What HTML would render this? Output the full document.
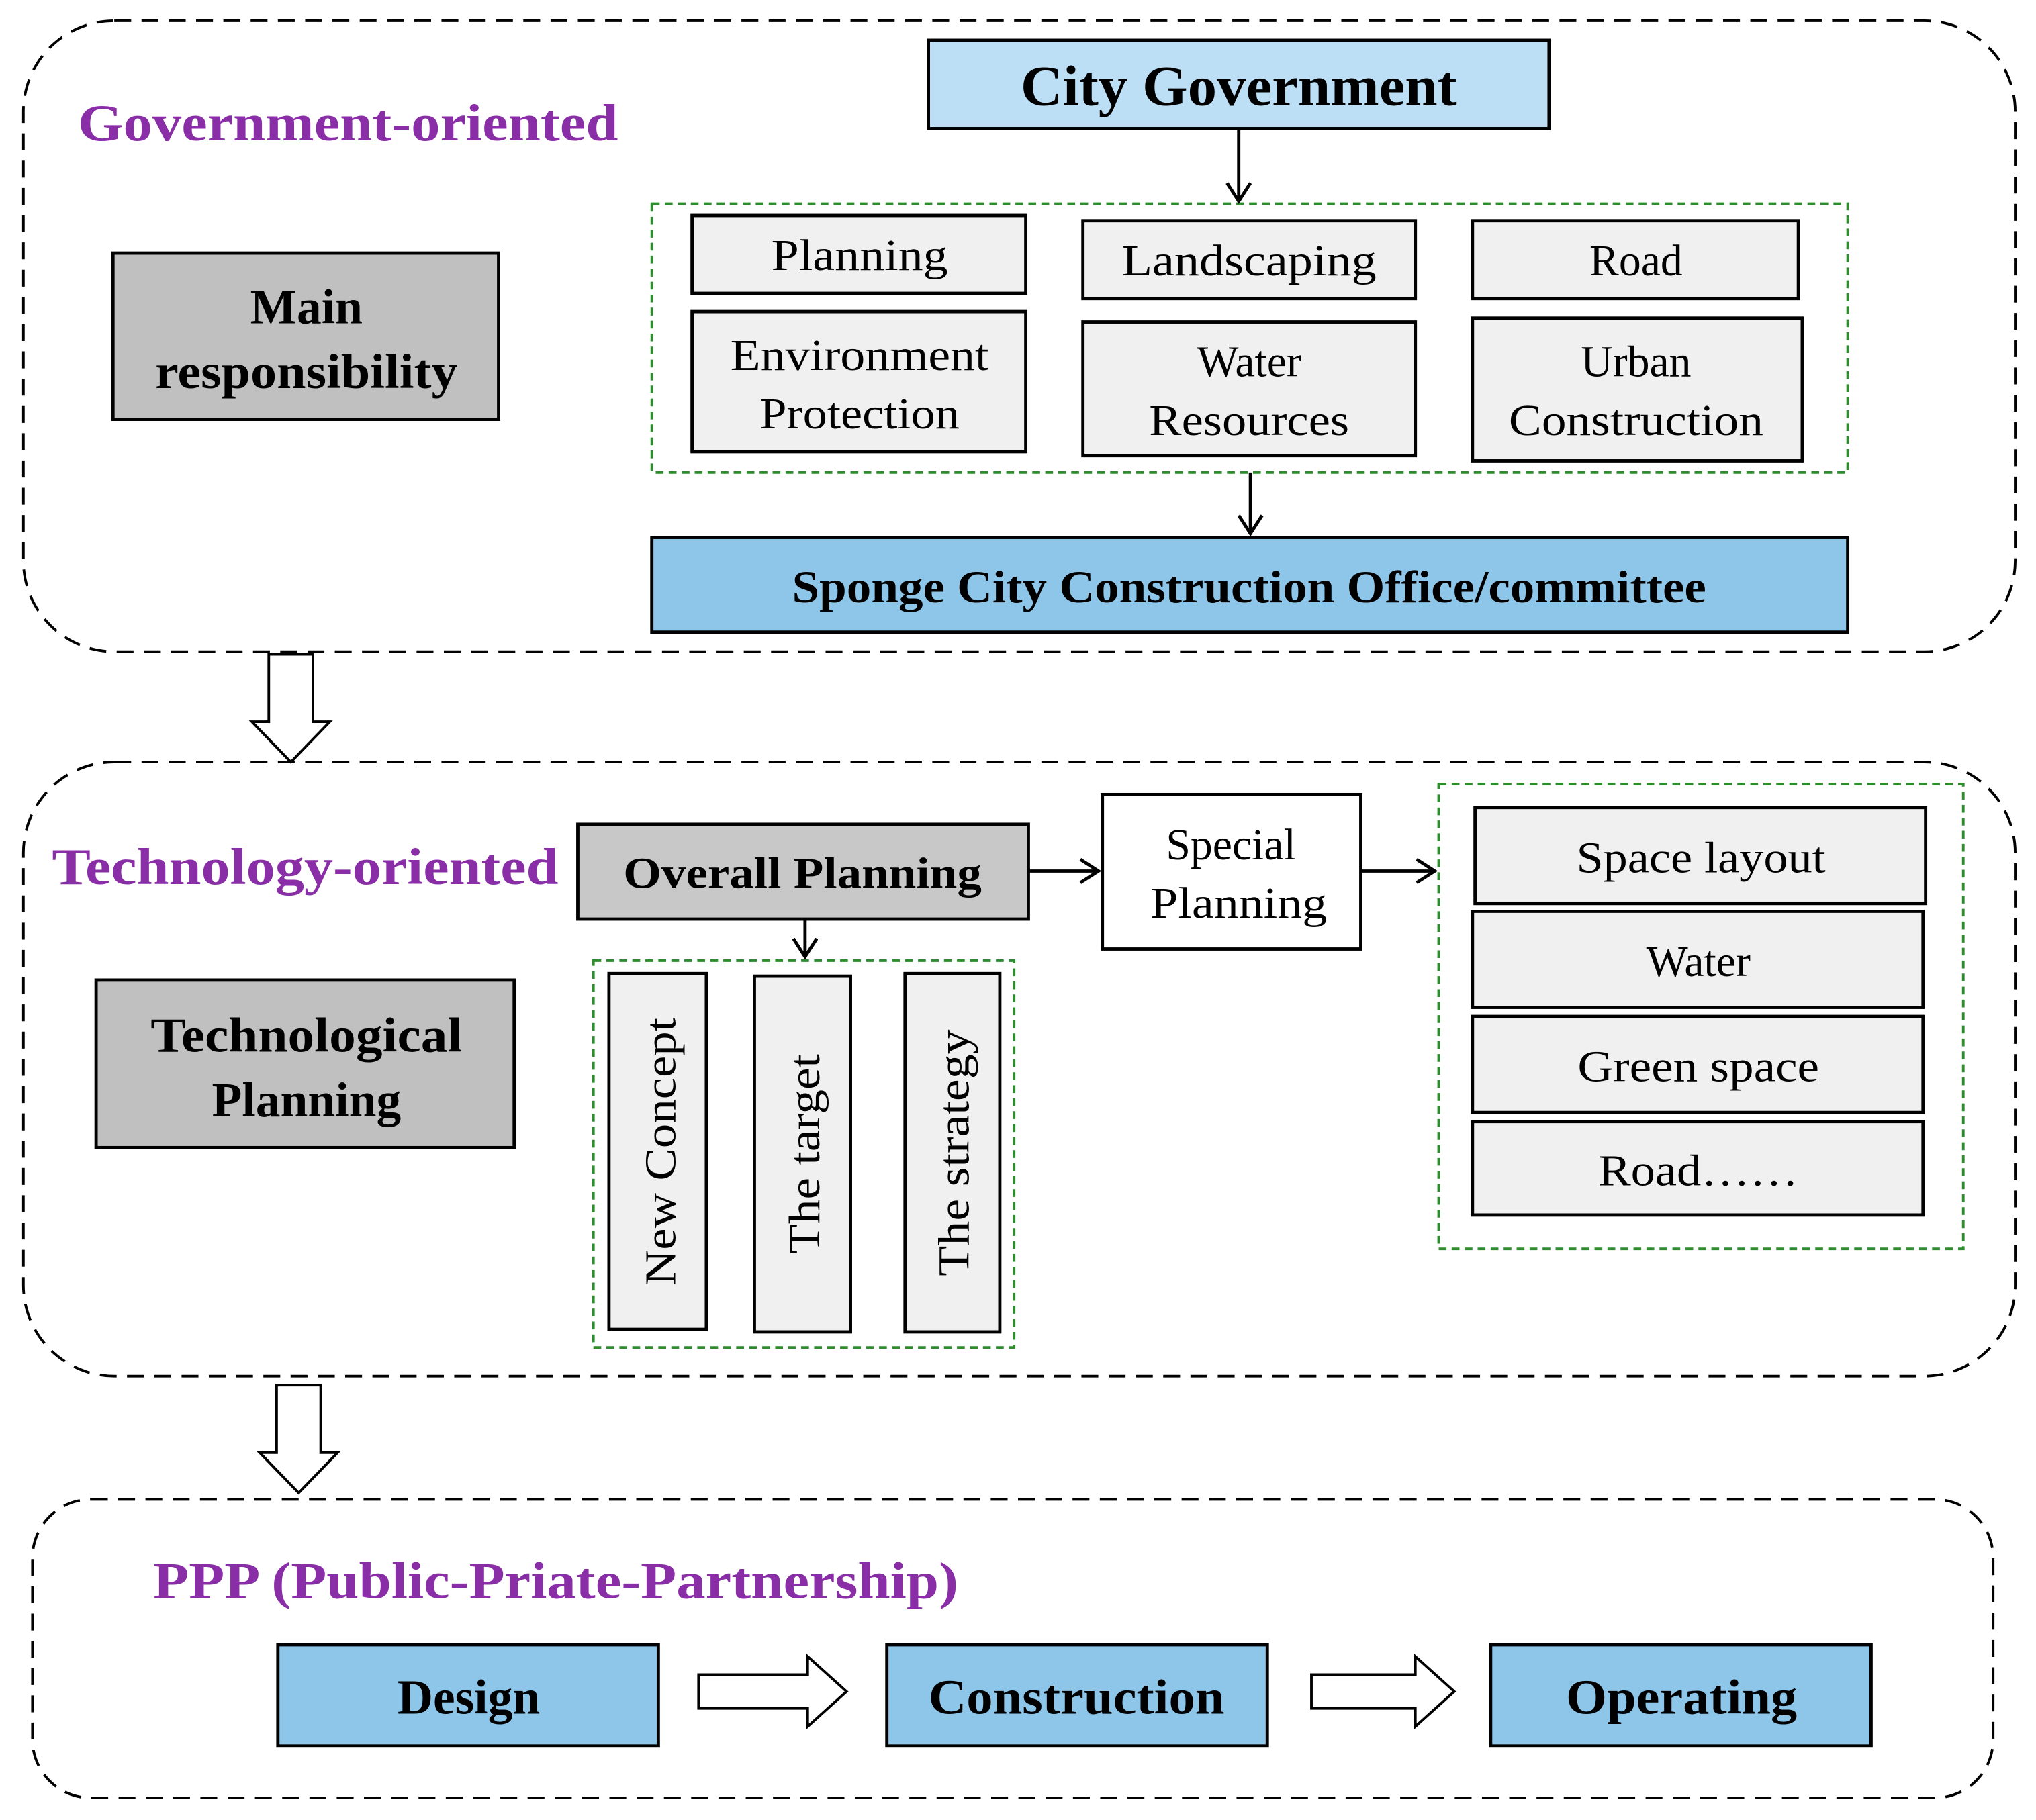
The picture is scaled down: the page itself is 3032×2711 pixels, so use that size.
<!DOCTYPE html>
<html><head><meta charset="utf-8"><style>
html,body{margin:0;padding:0;background:#fff}
svg{display:block}
text{font-family:"Liberation Serif",serif}
.b{font-weight:bold}
</style></head><body>
<svg width="3032" height="2711" viewBox="0 0 1568 1402" xmlns="http://www.w3.org/2000/svg">
<defs>
<marker id="ah" markerWidth="18" markerHeight="20" refX="16" refY="10" orient="auto" markerUnits="userSpaceOnUse"><path d="M2,1 L16,10 L2,19" fill="none" stroke="#000" stroke-width="2.5"/></marker>
</defs>
<g fill="none" stroke="#000" stroke-width="2" stroke-dasharray="13,8">
<rect x="18" y="16" width="1534" height="486" rx="70"/>
<rect x="18" y="587" width="1534" height="473" rx="70"/>
<rect x="25" y="1155" width="1510" height="230" rx="45"/>
</g>
<g fill="none" stroke="#2e8b2e" stroke-width="2" stroke-dasharray="6,4">
<rect x="502" y="157" width="921" height="207"/>
<rect x="1108" y="604" width="404" height="358"/>
<rect x="457" y="740" width="324" height="298"/>
</g>
<g fill="#8a2ea8" class="b" font-size="40" lengthAdjust="spacingAndGlyphs">
<text x="60" y="108" class="b" textLength="416" lengthAdjust="spacingAndGlyphs">Government-oriented</text>
<text x="40" y="681" class="b" textLength="390" lengthAdjust="spacingAndGlyphs">Technology-oriented</text>
<text x="118" y="1231" class="b" textLength="620" lengthAdjust="spacingAndGlyphs">PPP (Public-Priate-Partnership)</text>
</g>
<g stroke="#000" stroke-width="2.5">
<rect x="715" y="31" width="478" height="68" fill="#bcdff5"/>
<rect x="502" y="414" width="921" height="73" fill="#8ec6ea"/>
<rect x="87" y="195" width="297" height="128" fill="#c0c0c0"/>
<rect x="74" y="755" width="322" height="129" fill="#c0c0c0"/>
<rect x="445" y="635" width="347" height="73" fill="#c8c8c8"/>
<rect x="849" y="612" width="199" height="119" fill="#fff"/>
<rect x="214" y="1267" width="293" height="78" fill="#8ec6ea"/>
<rect x="683" y="1267" width="293" height="78" fill="#8ec6ea"/>
<rect x="1148" y="1267" width="293" height="78" fill="#8ec6ea"/>
</g>
<g stroke="#000" stroke-width="2.5" fill="#f0f0f0">
<rect x="533" y="166" width="257" height="60"/>
<rect x="834" y="170" width="256" height="60"/>
<rect x="1134" y="170" width="251" height="60"/>
<rect x="533" y="240" width="257" height="108"/>
<rect x="834" y="248" width="256" height="103"/>
<rect x="1134" y="245" width="254" height="110"/>
<rect x="1136" y="622" width="347" height="74"/>
<rect x="1134" y="702" width="347" height="74"/>
<rect x="1134" y="783" width="347" height="74"/>
<rect x="1134" y="864" width="347" height="72"/>
<rect x="469" y="750" width="75" height="274"/>
<rect x="581" y="752" width="74" height="274"/>
<rect x="697" y="750" width="73" height="276"/>
</g>
<g stroke="#000" stroke-width="2.5" fill="none" marker-end="url(#ah)">
<line x1="954" y1="99" x2="954" y2="155"/>
<line x1="963" y1="364" x2="963" y2="411"/>
<line x1="792" y1="671" x2="846" y2="671"/>
<line x1="1048" y1="671" x2="1105" y2="671"/>
<line x1="620" y1="708" x2="620" y2="737"/>
</g>
<g stroke="#000" stroke-width="2" fill="#fff">
<path d="M207,504 H241 V556 H254 L224,587 L194,556 H207 Z"/>
<path d="M213,1067 H247 V1119 H260 L230,1150 L200,1119 H213 Z"/>
<path d="M538,1290 H622 V1276 L652,1303 L622,1330 V1316 H538 Z"/>
<path d="M1010,1290 H1090 V1276 L1120,1303 L1090,1330 V1316 H1010 Z"/>
</g>
<g text-anchor="middle" fill="#000">
<text x="954" y="81" font-size="44" class="b" textLength="336" lengthAdjust="spacingAndGlyphs">City Government</text>
<text x="962" y="464" font-size="35" class="b" textLength="704" lengthAdjust="spacingAndGlyphs">Sponge City Construction Office/committee</text>
<text x="236" y="249" font-size="38" class="b">Main</text>
<text x="236" y="299" font-size="38" class="b" textLength="233" lengthAdjust="spacingAndGlyphs">responsibility</text>
<text x="236" y="810" font-size="38" class="b" textLength="240" lengthAdjust="spacingAndGlyphs">Technological</text>
<text x="236" y="860" font-size="38" class="b">Planning</text>
<text x="618" y="684" font-size="34" class="b" textLength="276" lengthAdjust="spacingAndGlyphs">Overall Planning</text>
<text x="361" y="1320" font-size="38" class="b">Design</text>
<text x="829" y="1320" font-size="38" class="b" textLength="228" lengthAdjust="spacingAndGlyphs">Construction</text>
<text x="1295" y="1320" font-size="38" class="b" textLength="178" lengthAdjust="spacingAndGlyphs">Operating</text>
<g font-size="34">
<text x="662" y="208" textLength="136" lengthAdjust="spacingAndGlyphs">Planning</text>
<text x="962" y="212" textLength="196" lengthAdjust="spacingAndGlyphs">Landscaping</text>
<text x="1260" y="212">Road</text>
<text x="662" y="285" textLength="199" lengthAdjust="spacingAndGlyphs">Environment</text>
<text x="662" y="330" textLength="154" lengthAdjust="spacingAndGlyphs">Protection</text>
<text x="962" y="290">Water</text>
<text x="962" y="335" textLength="154" lengthAdjust="spacingAndGlyphs">Resources</text>
<text x="1260" y="290">Urban</text>
<text x="1260" y="335" textLength="196" lengthAdjust="spacingAndGlyphs">Construction</text>
<text x="948" y="662">Special</text>
<text x="954" y="707" textLength="136" lengthAdjust="spacingAndGlyphs">Planning</text>
<text x="1310" y="672" textLength="192" lengthAdjust="spacingAndGlyphs">Space layout</text>
<text x="1308" y="752">Water</text>
<text x="1308" y="833" textLength="186" lengthAdjust="spacingAndGlyphs">Green space</text>
<text x="1308" y="913" textLength="154" lengthAdjust="spacingAndGlyphs">Road……</text>
<text transform="translate(520,887) rotate(-90)" textLength="206" lengthAdjust="spacingAndGlyphs">New Concept</text>
<text transform="translate(631,889) rotate(-90)" textLength="154" lengthAdjust="spacingAndGlyphs">The target</text>
<text transform="translate(746,888) rotate(-90)" textLength="190" lengthAdjust="spacingAndGlyphs">The strategy</text>
</g>
</g>
</svg>
</body></html>
